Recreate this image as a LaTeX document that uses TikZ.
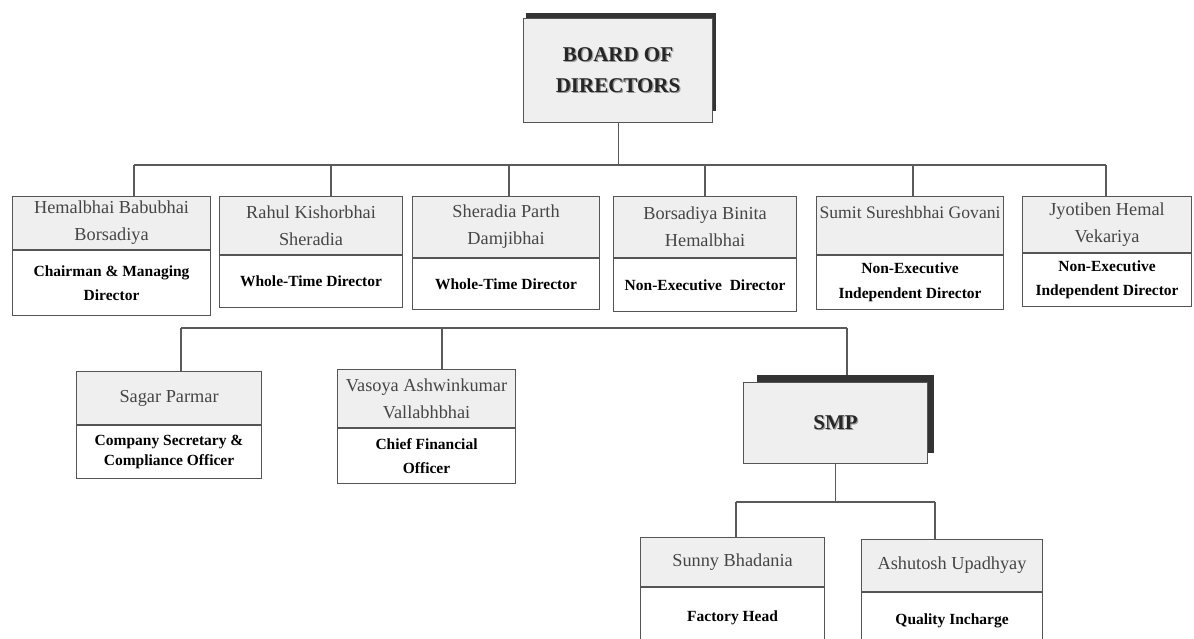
\documentclass[tikz,border=0pt]{standalone}
\usepackage{fontspec}
\setmainfont{Liberation Serif}
\definecolor{bordc}{HTML}{555555}
\definecolor{connc}{HTML}{5A5A5A}
\definecolor{namefill}{HTML}{EFEFEF}
\definecolor{nametext}{HTML}{454545}
\definecolor{shadc}{HTML}{333333}
\definecolor{shadtext}{HTML}{9A9A9A}
\newcommand{\shtext}[1]{\rlap{\kern1.3pt\raisebox{-1.3pt}{\textcolor{shadtext}{#1}}}#1}
\begin{document}
\begin{tikzpicture}[x=1pt,y=-1pt,
  namebox/.style={draw=bordc, fill=namefill, line width=1.1pt, anchor=north west, inner sep=0pt, align=center, text=nametext, font=\fontsize{18.3}{27}\selectfont},
  titlebox/.style={draw=bordc, fill=white, line width=1.1pt, anchor=north west, inner sep=0pt, align=center, text=black, font=\bfseries\fontsize{15.5}{24}\selectfont},
  headbox/.style={draw=bordc, fill=namefill, line width=1.1pt, anchor=north west, inner sep=0pt, align=center, text=black!85, font=\bfseries\fontsize{21}{31}\selectfont},
  shadowbox/.style={fill=shadc, draw=none, anchor=north west, inner sep=0pt},
  conn/.style={draw=connc, line width=1.1pt}]
\useasboundingbox (0,0) rectangle (1194,639);

% Board of directors
\node[shadowbox, minimum width=190, minimum height=98] (headshadow) at (526,13) {};
\node[headbox, minimum width=189, minimum height=104] (head) at (523,18) {\shtext{BOARD OF}\\\shtext{DIRECTORS}};

% Directors
\node[namebox, minimum width=198, minimum height=53] (n1) at (12,196) {Hemalbhai Babubhai\\Borsadiya};
\node[titlebox, minimum width=198, minimum height=65] (t1) at (n1.south west) {Chairman \& Managing\\Director};

\node[namebox, minimum width=183, minimum height=58] (n2) at (219,196) {Rahul Kishorbhai\\Sheradia};
\node[titlebox, minimum width=183, minimum height=52] (t2) at (n2.south west) {Whole-Time Director};

\node[namebox, minimum width=187, minimum height=61] (n3) at (412,196) {Sheradia Parth\\Damjibhai};
\node[titlebox, minimum width=187, minimum height=51] (t3) at (n3.south west) {Whole-Time Director};

\node[namebox, minimum width=183, minimum height=61] (n4) at (613,196) {Borsadiya Binita\\Hemalbhai};
\node[titlebox, minimum width=183, minimum height=53] (t4) at (n4.south west) {Non-Executive\ \ Director};

\node[namebox, minimum width=187, minimum height=58, font=\fontsize{17.6}{27}\selectfont] (n5) at (816,196) {Sumit Sureshbhai Govani\\~};
\node[titlebox, minimum width=187, minimum height=54, font=\bfseries\fontsize{15.5}{25}\selectfont] (t5) at (n5.south west) {Non-Executive\\Independent Director};

\node[namebox, minimum width=169, minimum height=56] (n6) at (1022,196) {Jyotiben Hemal\\Vekariya};
\node[titlebox, minimum width=169, minimum height=53] (t6) at (n6.south west) {Non-Executive\\Independent Director};

% Second tier
\node[namebox, minimum width=185, minimum height=53] (n7) at (76,371) {Sagar Parmar};
\node[titlebox, minimum width=185, minimum height=53, font=\bfseries\fontsize{15.5}{20}\selectfont] (t7) at (n7.south west) {Company Secretary \&\\Compliance Officer};

\node[namebox, minimum width=178, minimum height=58] (n8) at (337,369) {Vasoya Ashwinkumar\\Vallabhbhai};
\node[titlebox, minimum width=178, minimum height=55] (t8) at (n8.south west) {Chief Financial\\Officer};

\node[shadowbox, minimum width=177, minimum height=78] (smpshadow) at (757,375) {};
\node[headbox, minimum width=184, minimum height=81] (smp) at (743,382) {\shtext{SMP}};

% Third tier
\node[namebox, minimum width=184, minimum height=49] (n9) at (640,537) {Sunny Bhadania};
\node[titlebox, minimum width=184, minimum height=60] (t9) at (n9.south west) {Factory Head};

\node[namebox, minimum width=181, minimum height=52] (n10) at (861,539) {Ashutosh Upadhyay};
\node[titlebox, minimum width=181, minimum height=56] (t10) at (n10.south west) {Quality Incharge};

% Connectors: board to directors
\coordinate (b1) at (134,165);
\coordinate (b2) at (331,165);
\coordinate (b3) at (509,165);
\coordinate (b4) at (705,165);
\coordinate (b5) at (913,165);
\coordinate (b6) at (1106,165);
\draw[conn] (head.south) -- (head.south |- b1);
\draw[conn] (b1) -- (b6);
\draw[conn] (b1) -- (b1 |- n1.north);
\draw[conn] (b2) -- (b2 |- n2.north);
\draw[conn] (b3) -- (b3 |- n3.north);
\draw[conn] (b4) -- (b4 |- n4.north);
\draw[conn] (b5) -- (b5 |- n5.north);
\draw[conn] (b6) -- (b6 |- n6.north);

% Second bus
\coordinate (e1) at (181,328);
\coordinate (e2) at (442,328);
\coordinate (e3) at (847,328);
\draw[conn] (e1) -- (e3);
\draw[conn] (e1) -- (e1 |- n7.north);
\draw[conn] (e2) -- (e2 |- n8.north);
\draw[conn] (e3) -- (e3 |- smpshadow.north);

% SMP to staff
\coordinate (f1) at (736,502);
\coordinate (f2) at (935,502);
\draw[conn] (smp.south) -- (smp.south |- f1);
\draw[conn] (f1) -- (f2);
\draw[conn] (f1) -- (f1 |- n9.north);
\draw[conn] (f2) -- (f2 |- n10.north);
\end{tikzpicture}
\end{document}
